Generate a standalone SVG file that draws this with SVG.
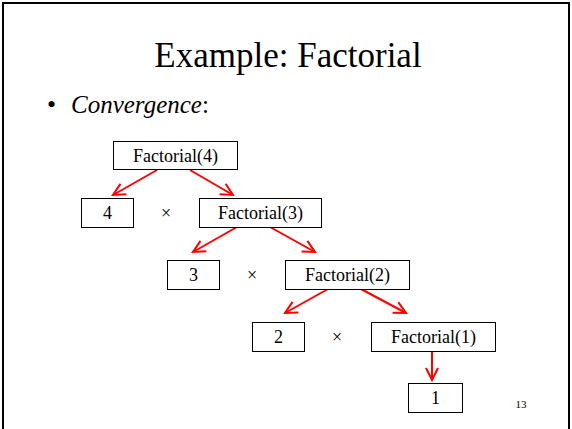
<svg xmlns="http://www.w3.org/2000/svg" width="572" height="429" viewBox="0 0 572 429">
<style>
.box{fill:#fff;stroke:#000;stroke-width:1}
.t{font-family:'Liberation Serif',serif;font-size:18px;text-anchor:middle;fill:#000}
.s{font-family:'Liberation Serif',serif;fill:#000}
.arr{stroke:#f00;stroke-width:2;fill:none;marker-end:url(#ah)}
</style>
<defs>
<marker id="ah" markerUnits="userSpaceOnUse" markerWidth="16" markerHeight="16" refX="13" refY="7" orient="auto" viewBox="0 0 16 14">
<path d="M1,1 L13,7 L1,13" fill="none" stroke="#f00" stroke-width="2"/>
</marker>
</defs>
<rect x="0" y="0" width="572" height="429" fill="#fff"/>
<rect x="3" y="3" width="566" height="440" fill="none" stroke="#000" stroke-width="2"/>
<text class="s" x="288" y="67" font-size="35" text-anchor="middle">Example: Factorial</text>
<text class="s" x="47" y="113" font-size="26">•</text>
<text class="s" x="71" y="113" font-size="25"><tspan font-style="italic">Convergence</tspan>:</text>
<g id="connectors">
<line class="arr" x1="157" y1="170" x2="113" y2="195"/>
<line class="arr" x1="190" y1="170" x2="233" y2="195"/>
<line class="arr" x1="237" y1="227" x2="193" y2="252"/>
<line class="arr" x1="270" y1="227" x2="315" y2="252"/>
<line class="arr" x1="328" y1="289" x2="285" y2="313"/>
<line class="arr" x1="361" y1="289" x2="406" y2="313"/>
<line class="arr" x1="432" y1="352" x2="432" y2="380"/>
</g>
<g id="f4"><rect class="box" x="113.5" y="141.5" width="124" height="28"/><text class="t" x="175.5" y="162">Factorial(4)</text></g>
<g id="n4"><rect class="box" x="81.5" y="198.5" width="52" height="29"/><text class="t" x="107.5" y="219">4</text></g>
<g id="x1"><text class="t" x="166" y="219" font-size="20">×</text></g>
<g id="f3"><rect class="box" x="199.5" y="198.5" width="122" height="29"/><text class="t" x="260.5" y="219">Factorial(3)</text></g>
<g id="n3"><rect class="box" x="167.5" y="260.5" width="52" height="29"/><text class="t" x="193.5" y="281">3</text></g>
<g id="x2"><text class="t" x="252" y="281" font-size="20">×</text></g>
<g id="f2"><rect class="box" x="285.5" y="260.5" width="124" height="29"/><text class="t" x="347.5" y="281">Factorial(2)</text></g>
<g id="n2"><rect class="box" x="252.5" y="322.5" width="52" height="29"/><text class="t" x="278.5" y="343">2</text></g>
<g id="x3"><text class="t" x="337" y="343" font-size="20">×</text></g>
<g id="f1"><rect class="box" x="371.5" y="322.5" width="124" height="29"/><text class="t" x="433.5" y="343">Factorial(1)</text></g>
<g id="n1"><rect class="box" x="408.5" y="383.5" width="54" height="29"/><text class="t" x="435.5" y="404">1</text></g>
<text class="s" x="521" y="408" font-size="11" text-anchor="middle">13</text>
</svg>
